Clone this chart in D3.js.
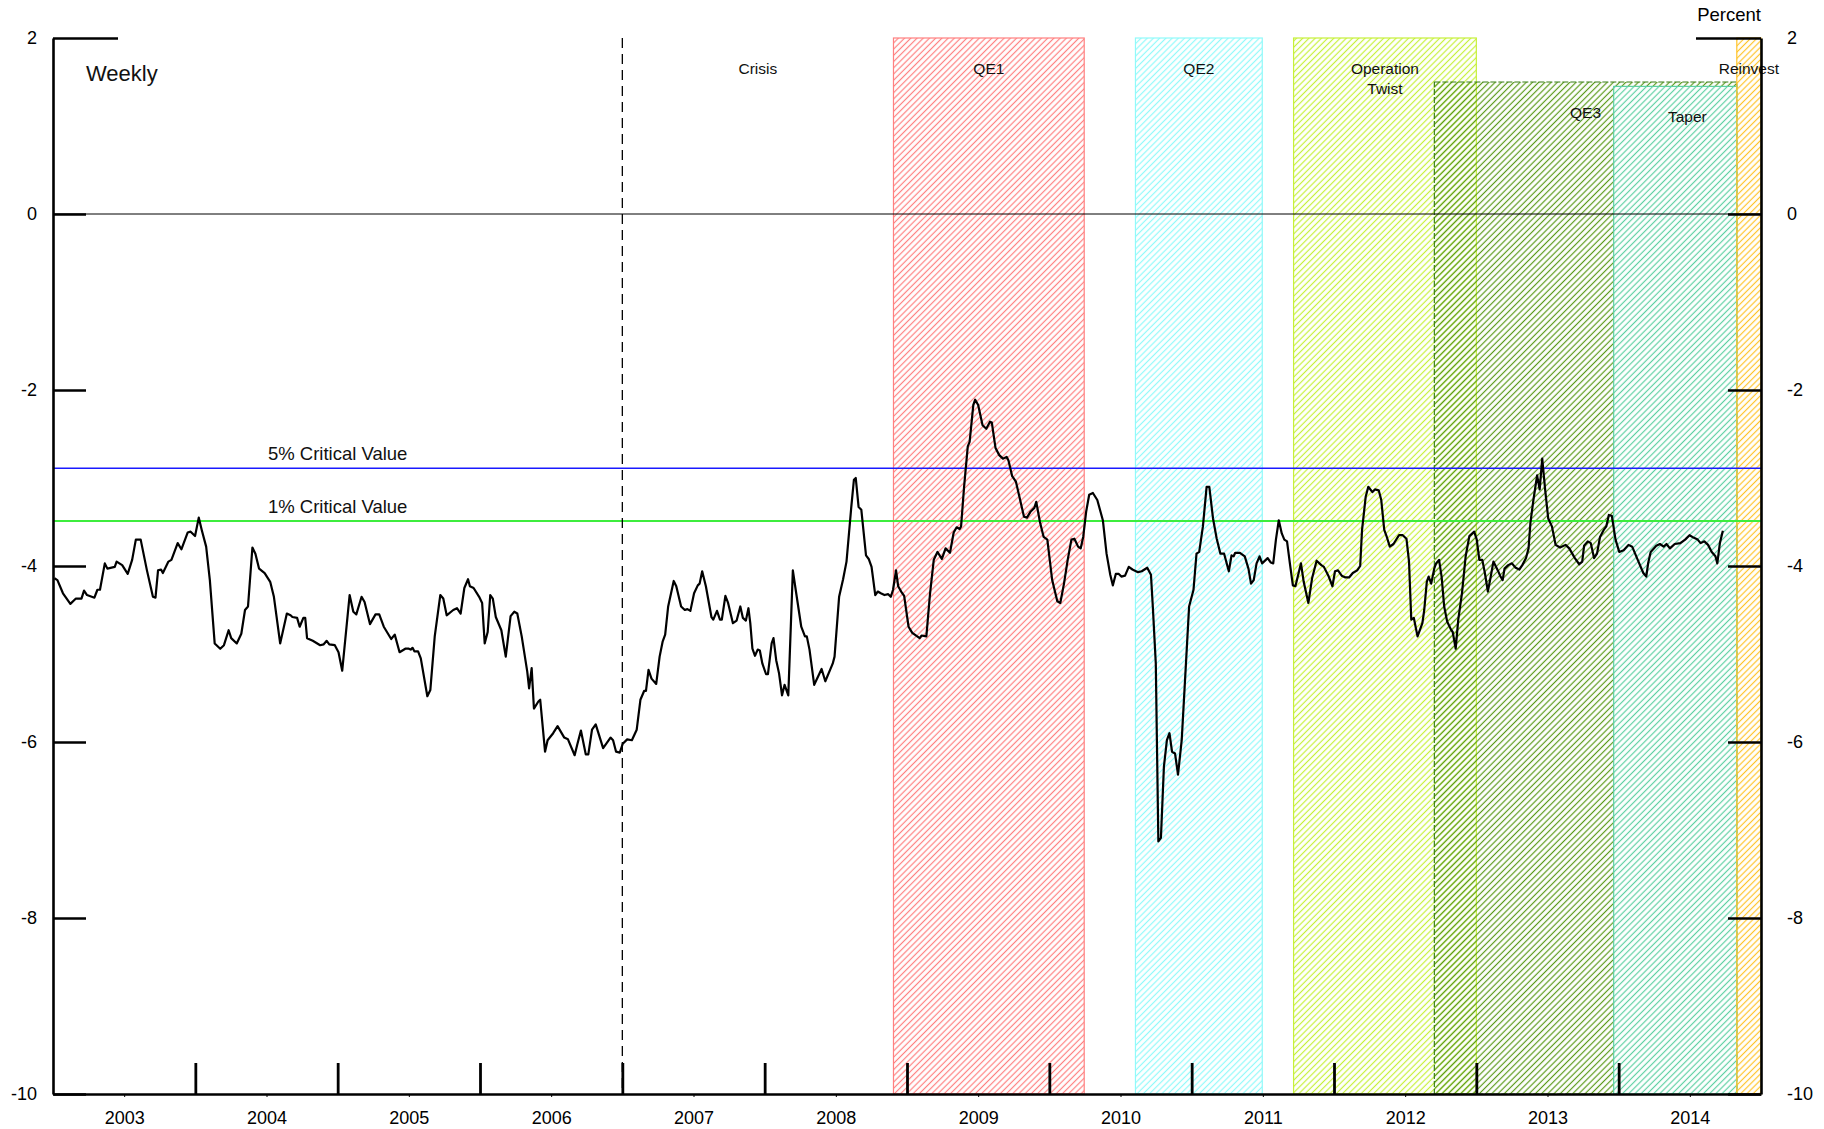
<!DOCTYPE html>
<html>
<head>
<meta charset="utf-8">
<script src="https://cdn.jsdelivr.net/npm/d3@7"></script>
<style>
  body { margin: 0; background: #fff; }
  svg { display: block; font-family: "Liberation Sans", Arial, Helvetica, sans-serif; }
</style>
</head>
<body>
<svg id="chart" width="1824" height="1129"></svg>
<script>
// weekly test statistic, dates as decimal years
const dates = [
  2003.010,2003.031,2003.070,2003.122,2003.161,2003.200,2003.218,2003.239,2003.291,2003.312,2003.330,2003.364,
  2003.382,2003.434,2003.447,2003.486,2003.525,2003.556,2003.582,2003.616,2003.660,2003.702,2003.720,2003.738,
  2003.759,2003.772,2003.811,2003.832,2003.876,2003.902,2003.946,2003.967,2003.998,2004.024,2004.045,2004.076,
  2004.102,2004.136,2004.175,2004.201,2004.234,2004.252,2004.291,2004.323,2004.349,2004.370,2004.401,2004.422,
  2004.448,2004.487,2004.526,2004.552,2004.596,2004.643,2004.669,2004.682,2004.715,2004.733,2004.759,2004.772,
  2004.785,2004.825,2004.877,2004.902,2004.923,2004.941,2004.980,2005.006,2005.032,2005.084,2005.110,2005.131,
  2005.168,2005.189,2005.227,2005.266,2005.292,2005.324,2005.376,2005.401,2005.435,2005.475,2005.500,2005.513,
  2005.526,2005.539,2005.565,2005.584,2005.630,2005.651,2005.682,2005.721,2005.742,2005.766,2005.812,2005.838,
  2005.864,2005.890,2005.916,2005.929,2005.955,2005.994,2006.015,2006.033,2006.054,2006.072,2006.090,2006.111,
  2006.150,2006.181,2006.215,2006.241,2006.262,2006.293,2006.332,2006.345,2006.363,2006.379,2006.410,2006.423,
  2006.457,2006.475,2006.514,2006.545,2006.592,2006.618,2006.665,2006.683,2006.709,2006.743,2006.761,2006.787,
  2006.813,2006.865,2006.917,2006.935,2006.956,2006.982,2007.003,2007.034,2007.067,2007.101,2007.127,2007.153,
  2007.166,2007.184,2007.205,2007.238,2007.262,2007.283,2007.301,2007.322,2007.361,2007.379,2007.413,2007.439,
  2007.457,2007.478,2007.504,2007.530,2007.543,2007.561,2007.587,2007.626,2007.639,2007.665,2007.686,2007.699,
  2007.724,2007.743,2007.777,2007.803,2007.829,2007.847,2007.868,2007.886,2007.899,2007.914,2007.932,2007.951,
  2007.966,2007.984,2008.010,2008.023,2008.049,2008.062,2008.081,2008.101,2008.122,2008.140,2008.166,2008.198,
  2008.218,2008.257,2008.283,2008.296,2008.315,2008.348,2008.400,2008.426,2008.478,2008.491,2008.523,2008.551,
  2008.575,2008.608,2008.627,2008.640,2008.660,2008.679,2008.712,2008.731,2008.751,2008.777,2008.795,2008.816,
  2008.842,2008.868,2008.886,2008.902,2008.923,2008.938,2008.959,2008.980,2009.011,2009.037,2009.089,2009.102,
  2009.136,2009.162,2009.188,2009.214,2009.245,2009.271,2009.302,2009.328,2009.349,2009.370,2009.380,2009.401,
  2009.427,2009.440,2009.466,2009.479,2009.500,2009.531,2009.557,2009.583,2009.596,2009.622,2009.648,2009.674,
  2009.700,2009.713,2009.739,2009.765,2009.822,2009.843,2009.869,2009.895,2009.908,2009.934,2009.960,2009.986,
  2010.020,2010.056,2010.077,2010.103,2010.129,2010.155,2010.176,2010.202,2010.220,2010.238,2010.259,2010.280,
  2010.306,2010.337,2010.376,2010.402,2010.428,2010.446,2010.467,2010.488,2010.506,2010.532,2010.558,2010.584,
  2010.623,2010.649,2010.688,2010.714,2010.727,2010.748,2010.766,2010.784,2010.805,2010.826,2010.844,2010.862,
  2010.883,2010.904,2010.930,2010.956,2010.982,2011.013,2011.034,2011.053,2011.079,2011.105,2011.124,2011.150,
  2011.176,2011.202,2011.228,2011.261,2011.280,2011.295,2011.306,2011.339,2011.373,2011.399,2011.417,2011.436,
  2011.456,2011.477,2011.495,2011.534,2011.555,2011.573,2011.592,2011.612,2011.633,2011.651,2011.670,2011.690,
  2011.711,2011.729,2011.768,2011.787,2011.820,2011.846,2011.878,2011.911,2011.929,2011.963,2011.989,2012.007,
  2012.028,2012.054,2012.080,2012.106,2012.132,2012.163,2012.184,2012.197,2012.223,2012.241,2012.270,2012.288,
  2012.314,2012.332,2012.353,2012.371,2012.392,2012.418,2012.457,2012.483,2012.509,2012.527,2012.543,2012.561,
  2012.587,2012.621,2012.634,2012.652,2012.665,2012.683,2012.704,2012.717,2012.738,2012.756,2012.774,2012.795,
  2012.821,2012.834,2012.855,2012.873,2012.899,2012.925,2012.951,2012.985,2013.003,2013.021,2013.042,2013.060,
  2013.081,2013.099,2013.120,2013.151,2013.167,2013.185,2013.198,2013.224,2013.250,2013.276,2013.302,2013.323,
  2013.349,2013.367,2013.380,2013.401,2013.427,2013.445,2013.463,2013.484,2013.505,2013.531,2013.557,2013.588,
  2013.627,2013.653,2013.692,2013.723,2013.744,2013.757,2013.783,2013.804,2013.827,2013.848,2013.869,2013.895,
  2013.913,2013.931,2013.952,2013.978,2014.004,2014.035,2014.069,2014.095,2014.134,2014.173,2014.194,2014.207,
  2014.225,2014.264,2014.290,2014.316,2014.336,2014.360,2014.394,2014.433,2014.467,2014.498,2014.529,2014.555,
  2014.576,2014.602,2014.628,2014.654,2014.680,2014.693,2014.711,2014.732
];
const values = [
  -4.14,-4.16,-4.31,-4.43,-4.37,-4.37,-4.28,-4.33,-4.36,-4.27,-4.27,-3.97,
  -4.03,-4.01,-3.95,-3.99,-4.09,-3.93,-3.70,-3.70,-4.05,-4.35,-4.36,-4.05,
  -4.04,-4.08,-3.95,-3.93,-3.74,-3.81,-3.62,-3.61,-3.66,-3.45,-3.59,-3.78,
  -4.16,-4.88,-4.94,-4.90,-4.73,-4.82,-4.88,-4.77,-4.50,-4.46,-3.79,-3.86,
  -4.03,-4.08,-4.18,-4.35,-4.88,-4.54,-4.56,-4.58,-4.59,-4.69,-4.59,-4.59,
  -4.82,-4.85,-4.90,-4.89,-4.85,-4.89,-4.90,-4.98,-5.19,-4.33,-4.52,-4.55,
  -4.35,-4.41,-4.66,-4.55,-4.55,-4.69,-4.83,-4.78,-4.98,-4.94,-4.94,-4.95,
  -4.93,-4.97,-4.97,-5.05,-5.48,-5.41,-4.80,-4.33,-4.37,-4.56,-4.50,-4.48,
  -4.54,-4.25,-4.15,-4.23,-4.25,-4.35,-4.42,-4.88,-4.75,-4.33,-4.37,-4.58,
  -4.73,-5.03,-4.57,-4.52,-4.54,-4.80,-5.20,-5.39,-5.16,-5.62,-5.54,-5.52,
  -6.11,-5.98,-5.90,-5.82,-5.95,-5.97,-6.15,-6.03,-5.87,-6.14,-6.14,-5.86,
  -5.80,-6.07,-5.95,-5.98,-6.11,-6.12,-6.02,-5.97,-5.98,-5.86,-5.52,-5.42,
  -5.42,-5.18,-5.28,-5.34,-5.03,-4.86,-4.78,-4.46,-4.17,-4.23,-4.46,-4.50,
  -4.49,-4.51,-4.31,-4.22,-4.20,-4.06,-4.23,-4.58,-4.61,-4.51,-4.61,-4.61,
  -4.34,-4.42,-4.65,-4.62,-4.46,-4.59,-4.62,-4.48,-4.65,-4.94,-5.02,-4.95,
  -4.96,-5.11,-5.23,-5.23,-4.88,-4.82,-5.07,-5.22,-5.47,-5.35,-5.47,-4.05,
  -4.27,-4.69,-4.80,-4.80,-4.95,-5.35,-5.17,-5.31,-5.11,-5.03,-4.35,-4.15,
  -3.95,-3.34,-3.02,-3.00,-3.33,-3.36,-3.88,-3.92,-4.01,-4.33,-4.29,-4.31,
  -4.33,-4.32,-4.35,-4.27,-4.05,-4.23,-4.29,-4.34,-4.69,-4.76,-4.82,-4.79,
  -4.80,-4.31,-3.93,-3.84,-3.92,-3.80,-3.85,-3.62,-3.56,-3.58,-3.55,-3.10,
  -2.64,-2.59,-2.17,-2.11,-2.17,-2.40,-2.44,-2.36,-2.37,-2.66,-2.74,-2.78,
  -2.76,-2.80,-2.98,-3.04,-3.44,-3.45,-3.38,-3.34,-3.27,-3.50,-3.67,-3.70,
  -4.16,-4.40,-4.42,-4.20,-3.93,-3.70,-3.69,-3.78,-3.80,-3.67,-3.38,-3.19,
  -3.17,-3.25,-3.48,-3.86,-4.10,-4.22,-4.09,-4.09,-4.12,-4.11,-4.01,-4.04,
  -4.07,-4.06,-4.02,-4.10,-4.46,-5.11,-7.13,-7.09,-6.28,-5.98,-5.90,-6.11,
  -6.13,-6.37,-5.98,-5.22,-4.46,-4.27,-3.86,-3.84,-3.55,-3.10,-3.10,-3.46,
  -3.69,-3.86,-3.86,-4.06,-3.88,-3.89,-3.85,-3.85,-3.89,-4.03,-4.20,-4.16,
  -3.97,-3.89,-3.97,-3.91,-3.96,-3.97,-3.70,-3.48,-3.63,-3.70,-3.72,-3.97,
  -4.22,-4.23,-3.97,-4.18,-4.42,-4.14,-3.94,-3.99,-4.01,-4.12,-4.23,-4.06,
  -4.05,-4.11,-4.13,-4.13,-4.08,-4.05,-4.00,-3.59,-3.21,-3.10,-3.16,-3.13,
  -3.14,-3.25,-3.59,-3.67,-3.78,-3.75,-3.65,-3.65,-3.69,-3.95,-4.61,-4.59,
  -4.80,-4.65,-4.50,-4.18,-4.12,-4.20,-4.03,-3.97,-3.93,-4.12,-4.46,-4.63,
  -4.72,-4.75,-4.94,-4.61,-4.31,-3.89,-3.66,-3.61,-3.70,-3.93,-3.93,-4.08,
  -4.29,-4.14,-3.95,-4.05,-4.11,-4.16,-4.03,-3.99,-3.97,-4.02,-4.04,-3.99,
  -3.91,-3.80,-3.51,-3.25,-2.97,-3.13,-2.78,-3.14,-3.46,-3.55,-3.76,-3.79,
  -3.76,-3.80,-3.91,-3.98,-3.95,-3.77,-3.72,-3.74,-3.91,-3.86,-3.67,-3.59,
  -3.55,-3.42,-3.43,-3.70,-3.84,-3.82,-3.76,-3.78,-3.93,-4.08,-4.12,-3.97,
  -3.84,-3.77,-3.75,-3.78,-3.75,-3.80,-3.75,-3.74,-3.70,-3.65,-3.68,-3.70,
  -3.74,-3.72,-3.76,-3.84,-3.89,-3.97,-3.74,-3.60
];

const yTicks = [-10, -8, -6, -4, -2, 0, 2];
const yearLabels = [2003, 2004, 2005, 2006, 2007, 2008, 2009, 2010, 2011, 2012, 2013, 2014];
const yearTicks = [2004, 2005, 2006, 2007, 2008, 2009, 2010, 2011, 2012, 2013, 2014];

const criticalNames = ["5% Critical Value", "1% Critical Value"];
const criticalValues = [-2.89, -3.49];

const crisisStart = 2007.0;
const programNames = ["QE1", "QE2", "Operation Twist", "QE3", "Taper", "Reinvest"];
const programStart = [2008.905, 2010.605, 2011.716, 2012.705, 2013.965, 2014.83];
const programEnd = [2010.245, 2011.496, 2013.0, 2014.83, 2014.83, 2015.0];
const programTop = [2, 2, 2, 1.5, 1.45, 2];

const colors = {
  "QE1": "#ff8080", "QE2": "#90fafa", "Operation Twist": "#c6f03a",
  "QE3": "#5a9a1a", "Taper": "#5ed0a2", "Reinvest": "#ffc32a"
};

const plotLeft = 53, plotRight = 1761, plotTop = 38, plotBottom = 1094;
const svg = d3.select("#chart");

const x = d3.scaleLinear().domain([2003, 2015]).range([plotLeft, plotRight]);
const y = d3.scaleLinear().domain([-10, 2]).range([plotBottom, plotTop]);

// hatch patterns
const defs = svg.append("defs");
programNames.forEach((name, i) => {
  const gap = 4.4;
  const p = defs.append("pattern")
    .attr("id", "hatch" + i)
    .attr("patternUnits", "userSpaceOnUse")
    .attr("width", gap).attr("height", gap)
    .attr("patternTransform", "rotate(45)");
  p.append("line")
    .attr("x1", gap / 2).attr("y1", 0).attr("x2", gap / 2).attr("y2", gap)
    .attr("stroke", colors[name]).attr("stroke-width", 1.2);
});

const regions = svg.append("g");
programNames.forEach((name, i) => {
  const rx = x(programStart[i]), rw = x(programEnd[i]) - x(programStart[i]);
  const ry = y(programTop[i]), rh = y(-10) - y(programTop[i]);
  if (name === "Taper") {
    regions.append("rect").attr("x", rx).attr("y", ry).attr("width", rw).attr("height", rh).attr("fill", "#fff");
  }
  regions.append("rect")
    .attr("x", rx).attr("y", ry).attr("width", rw).attr("height", rh)
    .attr("fill", `url(#hatch${i})`)
    .attr("stroke", name === "QE3" ? "#3a7f18" : colors[name])
    .attr("stroke-width", 1.2)
    .attr("stroke-dasharray", name === "QE3" ? "6,2" : null);
});

// region labels
const labels = svg.append("g").attr("font-size", 15.5).attr("fill", "#111").attr("text-anchor", "middle");
programNames.forEach((name, i) => {
  const end = name === "Taper" ? 2015 : programEnd[i];
  const cx = x((programStart[i] + end) / 2);
  const t = labels.append("text").attr("x", cx).attr("y", y(programTop[i]) + 36);
  if (name === "Operation Twist") {
    t.append("tspan").attr("x", cx).text("Operation");
    t.append("tspan").attr("x", cx).attr("dy", 20).text("Twist");
  } else {
    t.text(name);
  }
});
labels.append("text").attr("x", x((crisisStart + programStart[0]) / 2)).attr("y", y(2) + 36).text("Crisis");

// zero line
svg.append("line")
  .attr("x1", plotLeft).attr("x2", plotRight).attr("y1", y(0)).attr("y2", y(0))
  .attr("stroke", "#000").attr("stroke-width", 1);

// critical values
const critColors = ["#1a1aff", "#3ded3d"];
criticalValues.forEach((v, i) => {
  svg.append("line")
    .attr("x1", plotLeft).attr("x2", plotRight).attr("y1", y(v)).attr("y2", y(v))
    .attr("stroke", critColors[i]).attr("stroke-width", i === 0 ? 1.5 : 2);
  svg.append("text")
    .attr("x", (plotLeft + x(crisisStart)) / 2).attr("y", y(v) - 8)
    .attr("text-anchor", "middle").attr("font-size", 18.5).attr("fill", "#111")
    .text(criticalNames[i]);
});

// crisis dashed line
svg.append("line")
  .attr("x1", x(crisisStart)).attr("x2", x(crisisStart)).attr("y1", y(2)).attr("y2", y(-10))
  .attr("stroke", "#000").attr("stroke-width", 1.3).attr("stroke-dasharray", "10,6");

// series
const line = d3.line().x(d => x(d[0])).y(d => y(d[1]));
svg.append("path")
  .datum(d3.zip(dates, values))
  .attr("d", line)
  .attr("fill", "none").attr("stroke", "#000").attr("stroke-width", 2.2).attr("stroke-linejoin", "round");

// axes
const fmt = d => String(d);
const yl = svg.append("g").attr("transform", `translate(${plotLeft},0)`)
  .call(d3.axisLeft(y).tickValues(yTicks).tickSize(-33).tickPadding(16).tickSizeOuter(0).tickFormat(fmt));
const yr = svg.append("g").attr("transform", `translate(${plotRight},0)`)
  .call(d3.axisRight(y).tickValues(yTicks).tickSize(-33).tickPadding(26).tickSizeOuter(0).tickFormat(fmt));
[yl, yr].forEach((g, k) => {
  g.select(".domain").attr("stroke-width", 2.6);
  g.selectAll(".tick line").attr("stroke-width", 2.6);
  g.selectAll(".tick").filter(d => d === 2).select("line").attr("x2", k === 0 ? 65 : -65);
  g.selectAll(".tick text").attr("font-size", 18).attr("fill", "#000");
});

const xb = svg.append("g").attr("transform", `translate(0,${plotBottom})`)
  .call(d3.axisBottom(x).tickValues(yearLabels.map(v => v + 0.5)).tickSize(3).tickPadding(14)
    .tickSizeOuter(0).tickFormat(d => Math.floor(d)));
xb.select(".domain").attr("stroke-width", 2.6);
xb.selectAll(".tick text").attr("font-size", 18).attr("fill", "#000");

const xt = svg.append("g").attr("transform", `translate(0,${plotBottom})`)
  .call(d3.axisBottom(x).tickValues(yearTicks).tickSize(-31).tickFormat(""));
xt.select(".domain").remove();
xt.selectAll(".tick line").attr("stroke-width", 2.8);

// let axis text use the svg font
[yl, yr, xb, xt].forEach(g => g.attr("font-family", null));

// titles
svg.append("text").attr("x", 86).attr("y", 81).attr("font-size", 22).attr("fill", "#111").text("Weekly");
svg.append("text").attr("x", plotRight).attr("y", 21).attr("text-anchor", "end").attr("font-size", 18.5).attr("fill", "#000").text("Percent");
</script>
</body>
</html>
